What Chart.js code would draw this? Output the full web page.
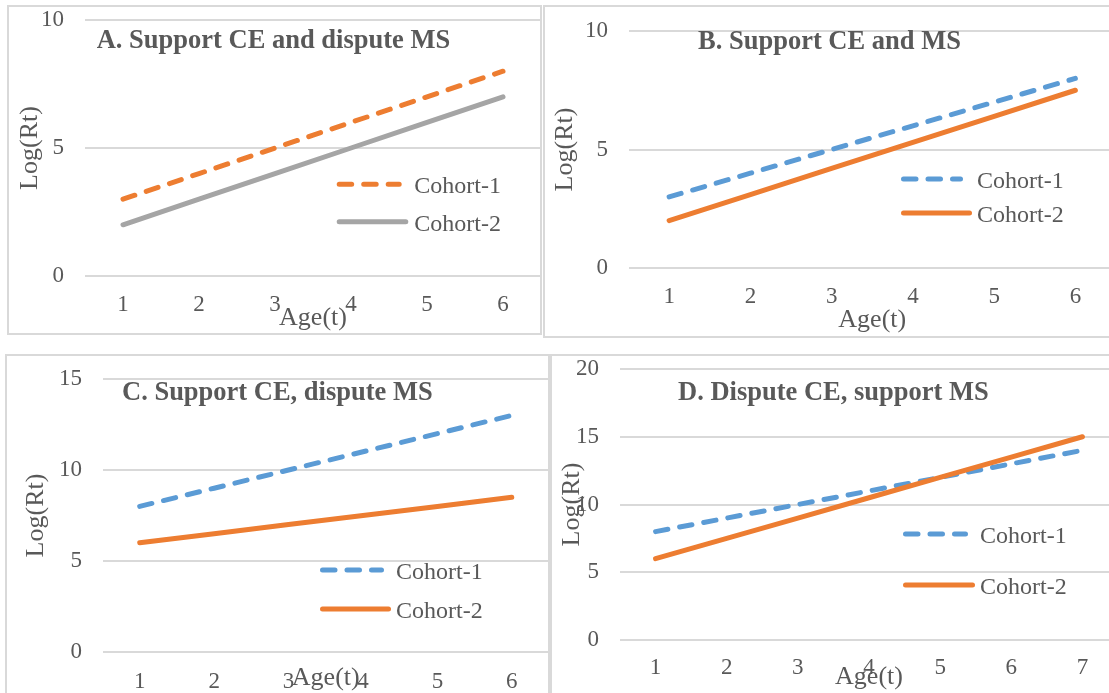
<!DOCTYPE html>
<html>
<head>
<meta charset="utf-8">
<script src="https://cdn.jsdelivr.net/npm/chart.js@4"></script>
<style>
  html, body { margin: 0; padding: 0; background: #fff; }
  body { width: 1109px; height: 693px; position: relative; overflow: hidden; }
  .frame { position: absolute; border: 2px solid #D9D9D9; box-sizing: border-box; }
  canvas { position: absolute; }
</style>
</head>
<body>
<div class="frame" style="left:7px;top:5px;width:535px;height:330px"></div>
<div class="frame" style="left:543px;top:5px;width:620px;height:333px"></div>
<div class="frame" style="left:5px;top:354px;width:545px;height:400px"></div>
<div class="frame" style="left:550px;top:354px;width:620px;height:400px"></div>

<canvas id="chartA" width="534" height="328" style="left:8px;top:6px;width:534px;height:328px"></canvas>
<canvas id="chartB" width="574" height="331" style="left:544px;top:6px;width:574px;height:331px"></canvas>
<canvas id="chartC" width="544" height="365" style="left:6px;top:355px;width:544px;height:365px"></canvas>
<canvas id="chartD" width="570" height="365" style="left:551px;top:355px;width:570px;height:365px"></canvas>

<script>
// ages (x axis)
var ages6 = ['1', '2', '3', '4', '5', '6'];
var ages7 = ['1', '2', '3', '4', '5', '6', '7'];

// A. Support CE and dispute MS
var aCohort1 = [3, 4, 5, 6, 7, 8];
var aCohort2 = [2, 3, 4, 5, 6, 7];
// B. Support CE and MS
var bCohort1 = [3, 4, 5, 6, 7, 8];
var bCohort2 = [2, 3.1, 4.2, 5.3, 6.4, 7.5];
// C. Support CE, dispute MS
var cCohort1 = [8, 9, 10, 11, 12, 13];
var cCohort2 = [6, 6.5, 7, 7.5, 8, 8.5];
// D. Dispute CE, support MS
var dCohort1 = [8, 9, 10, 11, 12, 13, 14];
var dCohort2 = [6, 7.5, 9, 10.5, 12, 13.5, 15];

var yMaxA = 10, yMaxB = 10, yMaxC = 15, yMaxD = 20;

var ORANGE = '#ED7D31', BLUE = '#5B9BD5', GRAY = '#A5A5A5';
var TEXT = '#595959', GRID = '#D9D9D9';
var SERIF = '"Liberation Serif", "Times New Roman", serif';
var DASH = [12.5, 12];

Chart.defaults.font.family = SERIF;
Chart.defaults.color = TEXT;

// draws the chart title and the legend inside the plot area, like Excel does
var overlayPlugin = {
    id: 'overlay',
    afterDatasetsDraw: function (chart, args, opts) {
        var ctx = chart.ctx;
        ctx.save();
        ctx.fillStyle = TEXT;
        ctx.textAlign = 'left';
        ctx.textBaseline = 'alphabetic';
        ctx.font = 'bold 26.5px ' + SERIF;
        ctx.fillText(opts.title, opts.titleX, opts.titleY);

        ctx.font = '24px ' + SERIF;
        chart.data.datasets.forEach(function (ds, i) {
            var y = opts.legendY[i];
            var x0 = opts.legendX, x1 = opts.legendX + opts.legendLen[i];
            ctx.beginPath();
            ctx.lineWidth = 5;
            ctx.lineCap = 'round';
            ctx.strokeStyle = ds.borderColor;
            ctx.setLineDash(ds.borderDash || []);
            ctx.moveTo(x0 + 2.5, y);
            ctx.lineTo(x1 - 2.5, y);
            ctx.stroke();
            ctx.setLineDash([]);
            ctx.fillText(ds.label, opts.textX, y + 9);
        });
        ctx.restore();
    }
};

function makeChart(id, labels, c1, c2, c1Color, c2Color, yMax, L) {
    var ctx = document.getElementById(id).getContext('2d');
    return new Chart(ctx, {
        type: 'line',
        data: {
            labels: labels,
            datasets: [{
                label: 'Cohort-1',
                data: c1,
                borderColor: c1Color,
                borderWidth: 5,
                borderDash: DASH,
                borderCapStyle: 'round',
                pointRadius: 0,
                pointHoverRadius: 0,
                fill: false,
                order: 1
            }, {
                label: 'Cohort-2',
                data: c2,
                borderColor: c2Color,
                borderWidth: 5,
                borderCapStyle: 'round',
                pointRadius: 0,
                pointHoverRadius: 0,
                fill: false,
                order: 0
            }]
        },
        options: {
            responsive: false,
            animation: false,
            devicePixelRatio: 1,
            layout: { padding: { left: 0, top: L.padTop, right: L.padRight, bottom: 0 } },
            plugins: {
                legend: { display: false },
                tooltip: { enabled: false },
                overlay: L.overlay
            },
            scales: {
                x: {
                    offset: true,
                    grid: { display: false, drawTicks: false },
                    border: { display: false },
                    ticks: { color: TEXT, font: { size: 23, lineHeight: 1 }, padding: L.xTickPad, maxRotation: 0 },
                    title: { display: true, text: 'Age(t)', color: TEXT, font: { size: 26, lineHeight: 1 }, padding: { top: 0, bottom: L.xTitlePad } },
                    afterFit: function (s) {
                        s.height = L.xHeight;
                        s.paddingLeft = 0;
                        s.paddingRight = 0;
                    }
                },
                y: {
                    min: 0,
                    max: yMax,
                    grid: { color: GRID, lineWidth: 2, drawTicks: false },
                    border: { display: false },
                    ticks: { stepSize: 5, color: TEXT, font: { size: 23, lineHeight: 1 }, padding: L.yTickPad },
                    title: { display: true, text: 'Log(Rt)', color: TEXT, font: { size: 26, lineHeight: 1 }, padding: { top: L.yTitlePad, bottom: 0 } },
                    afterFit: function (s) {
                        s.width = L.yWidth;
                        s.paddingTop = 0;
                        s.paddingBottom = 0;
                    }
                }
            }
        },
        plugins: [overlayPlugin]
    });
}

makeChart('chartA', ages6, aCohort1, aCohort2, ORANGE, GRAY, yMaxA, {
    padTop: 14, padRight: 1, yWidth: 77, xHeight: 58,
    yTickPad: 21, xTickPad: 17.5, yTitlePad: 9, xTitlePad: 3,
    overlay: { title: 'A. Support CE and dispute MS', titleX: 88.7, titleY: 42.3,
               legendX: 328.7, legendLen: [65, 71.6], legendY: [178.3, 215.7], textX: 406.3 }
});

makeChart('chartB', ages6, bCohort1, bCohort2, BLUE, ORANGE, yMaxB, {
    padTop: 25, padRight: 2, yWidth: 84.5, xHeight: 69,
    yTickPad: 20.5, xTickPad: 17.5, yTitlePad: 8, xTitlePad: 4,
    overlay: { title: 'B. Support CE and MS', titleX: 154, titleY: 43,
               legendX: 357, legendLen: [62, 71], legendY: [173, 207], textX: 433 }
});

makeChart('chartC', ages6, cCohort1, cCohort2, BLUE, ORANGE, yMaxC, {
    padTop: 24, padRight: 1, yWidth: 96.5, xHeight: 68,
    yTickPad: 20.5, xTickPad: 18.5, yTitlePad: 17, xTitlePad: 29,
    overlay: { title: 'C. Support CE, dispute MS', titleX: 116, titleY: 45,
               legendX: 314, legendLen: [64, 71], legendY: [215, 254], textX: 390 }
});

makeChart('chartD', ages7, dCohort1, dCohort2, BLUE, ORANGE, yMaxD, {
    padTop: 14, padRight: 3, yWidth: 69, xHeight: 80,
    yTickPad: 21, xTickPad: 16.5, yTitlePad: 8, xTitlePad: 30,
    overlay: { title: 'D. Dispute CE, support MS', titleX: 127, titleY: 45,
               legendX: 352, legendLen: [65, 72], legendY: [179, 230], textX: 429 }
});
</script>
</body>
</html>
